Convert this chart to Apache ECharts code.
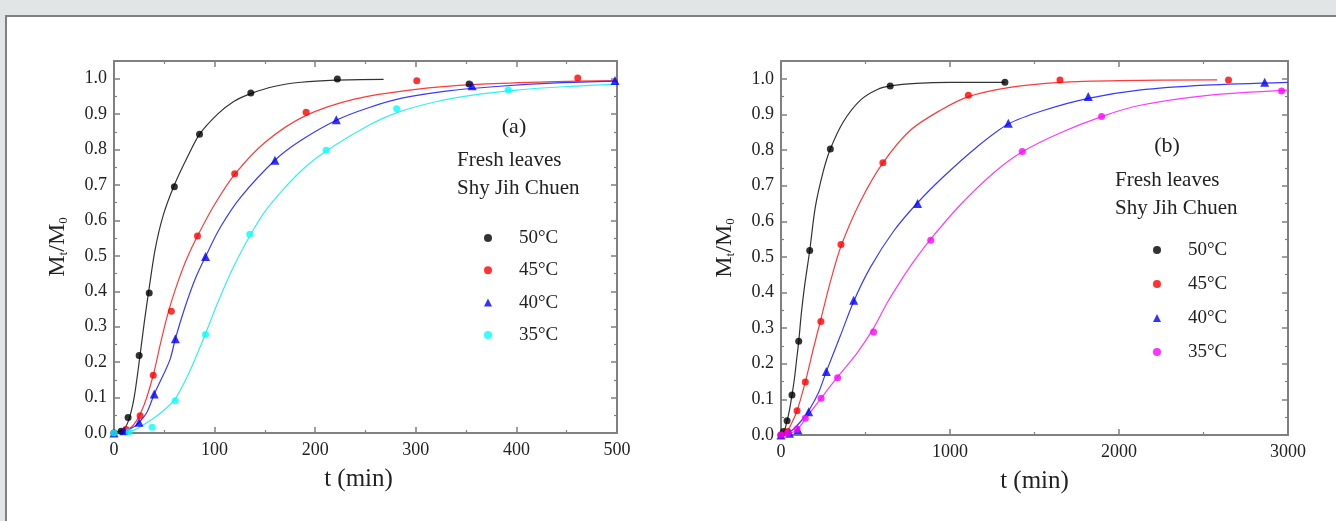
<!DOCTYPE html>
<html><head><meta charset="utf-8">
<script src="https://cdn.jsdelivr.net/npm/echarts@6/dist/echarts.min.js"></script>
<style>
html,body{margin:0;padding:0;width:1336px;height:521px;overflow:hidden;background:#e2e5e5;}
#panel{position:absolute;left:5px;top:15px;width:1340px;height:520px;background:#fff;border-left:2px solid #808080;border-top:2px solid #808080;}
#chart{position:absolute;left:0;top:0;width:1336px;height:521px;}
</style></head><body><div id="panel"></div><div id="chart"></div>
<script>
// ---------- labels ----------
const tempLabels = ['50°C', '45°C', '40°C', '35°C'];
const panelTags = ['(a)', '(b)'];
const sampleLines = ['Fresh leaves', 'Shy Jih Chuen'];
const xTitle = 't (min)';

// ---------- chart (a): measured points [t (min), Mt/M0] ----------
const aPts50 = [[0,0],[7,0.005],[14,0.044],[25,0.219],[35,0.395],[60,0.695],[85,0.843],[136,0.96],[222,0.999],[353,0.985]];
const aPts45 = [[0,0],[12,0.01],[26,0.049],[39,0.163],[57,0.344],[83,0.556],[120,0.732],[191,0.905],[301,0.994],[461,1.002]];
const aPts40 = [[0,0],[10,0.006],[25,0.03],[40,0.11],[61,0.266],[91,0.498],[160,0.77],[221,0.884],[356,0.98],[498,0.995]];
const aPts35 = [[0,0],[15,0.003],[38,0.016],[61,0.091],[91,0.278],[135,0.561],[211,0.798],[281,0.915],[392,0.968]];
// ---------- chart (a): fitted curves ----------
const aFit50 = [[0,0],[10,0.012],[15,0.04],[20,0.1],[25,0.2],[30,0.31],[35,0.41],[41,0.52],[49,0.615],[60,0.7],[73,0.779],[85,0.843],[103,0.9],[119,0.936],[136,0.958],[159,0.978],[186,0.99],[220,0.996],[268,0.998]];
const aFit45 = [[0,0],[10,0.004],[20,0.025],[30,0.08],[39,0.163],[46,0.25],[52,0.32],[57,0.37],[64,0.43],[72,0.49],[83,0.556],[100,0.645],[120,0.73],[150,0.82],[190,0.895],[240,0.943],[300,0.97],[360,0.984],[430,0.991],[500,0.995]];
const aFit40 = [[0,0],[10,0.005],[19,0.016],[25,0.03],[33,0.06],[40,0.11],[50,0.17],[56,0.21],[61,0.266],[70,0.35],[80,0.43],[91,0.498],[106,0.582],[126,0.666],[160,0.77],[186,0.826],[222,0.884],[253,0.918],[286,0.945],[330,0.965],[380,0.978],[440,0.988],[500,0.993]];
const aFit35 = [[0,0],[10,0.002],[20,0.008],[36,0.035],[50,0.065],[61,0.097],[73,0.16],[82,0.218],[91,0.28],[103,0.367],[119,0.47],[136,0.561],[150,0.625],[169,0.69],[190,0.75],[212,0.798],[253,0.868],[282,0.905],[320,0.935],[360,0.955],[400,0.968],[450,0.978],[500,0.985]];

// ---------- chart (b): measured points ----------
const bPts50 = [[0,0],[15,0.01],[36,0.04],[65,0.112],[105,0.263],[170,0.518],[292,0.803],[646,0.98],[1325,0.99]];
const bPts45 = [[0,0],[40,0.01],[95,0.068],[144,0.149],[236,0.319],[355,0.535],[603,0.764],[1109,0.954],[1651,0.997],[2648,0.997]];
const bPts40 = [[0,0],[50,0.005],[100,0.015],[164,0.065],[268,0.178],[430,0.378],[808,0.65],[1345,0.875],[1818,0.95],[2862,0.99]];
const bPts35 = [[0,0],[40,0.005],[95,0.017],[144,0.047],[237,0.103],[335,0.161],[548,0.289],[886,0.547],[1428,0.796],[1897,0.894],[2962,0.966]];
// ---------- chart (b): fitted curves ----------
const bFit50 = [[0,0],[20,0.012],[36,0.04],[50,0.07],[65,0.112],[80,0.16],[92,0.21],[105,0.263],[120,0.34],[140,0.42],[170,0.518],[203,0.64],[250,0.74],[292,0.803],[370,0.88],[470,0.94],[570,0.97],[650,0.98],[800,0.987],[1000,0.99],[1325,0.99]];
const bFit45 = [[0,0],[30,0.008],[55,0.025],[95,0.068],[144,0.149],[193,0.245],[236,0.325],[292,0.43],[355,0.53],[469,0.655],[603,0.764],[764,0.855],[941,0.911],[1109,0.95],[1355,0.976],[1651,0.99],[2000,0.995],[2580,0.997]];
const bFit40 = [[0,0],[40,0.005],[75,0.017],[120,0.04],[164,0.068],[223,0.12],[268,0.178],[350,0.277],[430,0.375],[528,0.47],[666,0.572],[808,0.652],[961,0.725],[1158,0.808],[1345,0.873],[1552,0.911],[1818,0.945],[2118,0.968],[2513,0.982],[3000,0.99]];
const bFit35 = [[0,0],[50,0.004],[95,0.015],[144,0.045],[237,0.103],[335,0.163],[450,0.23],[548,0.3],[627,0.37],[705,0.43],[790,0.49],[886,0.55],[1059,0.645],[1256,0.735],[1428,0.795],[1651,0.848],[1897,0.894],[2118,0.925],[2513,0.953],[3000,0.968]];

// ---------- axis ranges ----------
const aXMax = 500, aXStep = 100;
const bXMax = 3000, bXStep = 1000;
const yMax = 1.05, yStep = 0.1;

// ---------- styling ----------
const FONT = "'Liberation Serif','Times New Roman',serif";
const TXT = '#222222';
const FRAME = '#808080';
const aColors = ['#000000', '#ff0000', '#0000ff', '#00ffff'];
const bColors = ['#000000', '#ff0000', '#0000ff', '#ff00ff'];
const lineColorsA = ['#333333', '#ff3a3a', '#3a3aff', '#33f0f0'];
const lineColorsB = ['#333333', '#ff3a3a', '#3a3aff', '#ff3aff'];
const symbols = ['circle', 'circle', 'triangle', 'circle'];
const symSizes = [7, 7, 9, 7];

const grids = [
  {left: 114, top: 61, width: 503, height: 372},
  {left: 781, top: 61, width: 507, height: 374}
];

function xAxes(gi, max, step, namePad) {
  const base = {
    type: 'value', gridIndex: gi, min: 0, max: max, interval: step,
    axisLine: {show: true, onZero: false, lineStyle: {color: FRAME, width: 2}},
    axisTick: {show: true, inside: true, length: 6, lineStyle: {color: FRAME, width: 1.5}},
    minorTick: {show: true, splitNumber: 2, length: 3, lineStyle: {color: FRAME, width: 1.2}},
    splitLine: {show: false}
  };
  return [
    Object.assign({}, base, {
      position: 'bottom',
      axisLabel: {show: true, color: TXT, fontFamily: FONT, fontSize: 18, margin: 8,
        formatter: v => String(v)},
      name: xTitle, nameLocation: 'middle', nameGap: 34,
      nameTextStyle: {color: TXT, fontFamily: FONT, fontSize: 25, padding: namePad}
    }),
    Object.assign({}, base, {position: 'top', axisLabel: {show: false}})
  ];
}
function yAxes(gi) {
  const base = {
    type: 'value', gridIndex: gi, min: 0, max: yMax, interval: yStep,
    axisLine: {show: true, onZero: false, lineStyle: {color: FRAME, width: 2}},
    axisTick: {show: true, inside: true, length: 6, lineStyle: {color: FRAME, width: 1.5}},
    minorTick: {show: true, splitNumber: 2, length: 3, lineStyle: {color: FRAME, width: 1.2}},
    splitLine: {show: false}
  };
  return [
    Object.assign({}, base, {
      position: 'left',
      axisLabel: {show: true, color: TXT, fontFamily: FONT, fontSize: 18, margin: 7,
        showMaxLabel: false, formatter: v => v.toFixed(1)},
      name: '{m|M}{s|t}{m|/M}{s|0}', nameLocation: 'middle', nameGap: 44, nameRotate: 90,
      nameTextStyle: {color: TXT, fontFamily: FONT, fontSize: 24,
        rich: {m: {fontFamily: FONT, fontSize: 24, color: TXT},
               s: {fontFamily: FONT, fontSize: 13, color: TXT, padding: [11, 0, 0, 0]}}}
    }),
    Object.assign({}, base, {position: 'right', axisLabel: {show: false}})
  ];
}

const series = [];
const aPts = [aPts50, aPts45, aPts40, aPts35];
const aFit = [aFit50, aFit45, aFit40, aFit35];
const bPts = [bPts50, bPts45, bPts40, bPts35];
const bFit = [bFit50, bFit45, bFit40, bFit35];
[[aPts, aColors, 0, 0], [bPts, bColors, 2, 2]].forEach(([sets, cols, xi, yi]) => {
  sets.forEach((d, i) => series.push({
    type: 'scatter', name: tempLabels[i], xAxisIndex: xi, yAxisIndex: yi, data: d,
    symbol: symbols[i], symbolSize: symSizes[i], itemStyle: {color: cols[i]}, z: 3
  }));
});
[[aFit, lineColorsA, 0, 0], [bFit, lineColorsB, 2, 2]].forEach(([sets, cols, xi, yi]) => {
  sets.forEach((d, i) => series.push({
    type: 'line', name: tempLabels[i], xAxisIndex: xi, yAxisIndex: yi, data: d,
    smooth: 0.3, showSymbol: false, symbol: 'none',
    lineStyle: {color: cols[i], width: 1.2}, itemStyle: {color: cols[i]}, z: 2
  }));
});

function legend(left, top, gap, cols) {
  return {
    orient: 'vertical', left: left, top: top, itemWidth: 8, itemHeight: 8, itemGap: gap,
    selectedMode: true,
    textStyle: {color: TXT, fontFamily: FONT, fontSize: 19, lineHeight: 20, padding: [0, 0, 0, 22]},
    data: tempLabels.map((n, i) => ({name: n, icon: symbols[i] === 'triangle' ? 'triangle' : 'circle',
      itemStyle: {color: cols[i]}}))
  };
}

function txt(x, y, s, size, align) {
  return {type: 'text', x: x, y: y, style: {text: s, fill: TXT, font: size + 'px ' + FONT,
    textAlign: align || 'left', textVerticalAlign: 'middle'}};
}

const option = {
  animation: false,
  grid: grids,
  xAxis: [...xAxes(0, aXMax, aXStep, [0, 14, 0, 0]), ...xAxes(1, bXMax, bXStep, [0, 0, 0, 0])],
  yAxis: [...yAxes(0), ...yAxes(1)],
  legend: [legend(479, 223, 12.3, aColors), legend(1148, 235, 14, bColors)],
  series: series,
  graphic: [
    txt(514, 127, panelTags[0], 22, 'center'),
    txt(457, 160, sampleLines[0], 21),
    txt(457, 188, sampleLines[1], 21),
    txt(1167, 146, panelTags[1], 22, 'center'),
    txt(1115, 180, sampleLines[0], 21),
    txt(1115, 208, sampleLines[1], 21)
  ]
};
const chart = echarts.init(document.getElementById('chart'), null, {renderer: 'canvas'});
chart.setOption(option);
</script></body></html>
